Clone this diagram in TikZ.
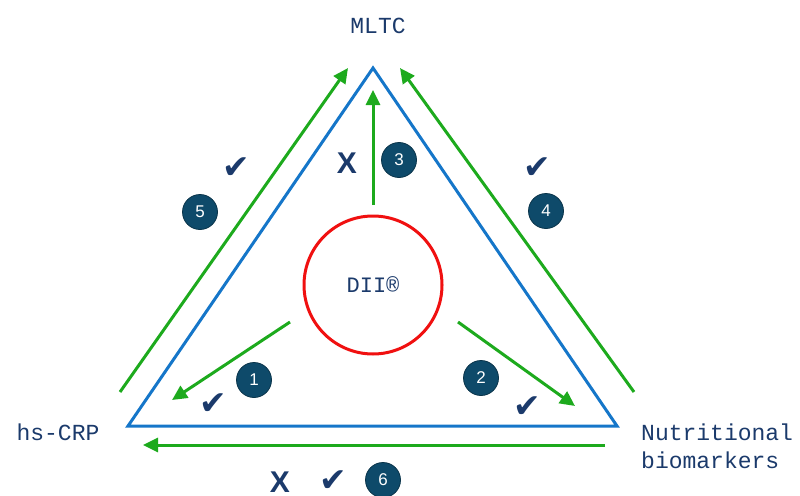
\documentclass[tikz,border=0pt]{standalone}
\usepackage{fontspec}
\setmainfont{Liberation Sans}
\newfontfamily\labelfont{Liberation Mono}
\newfontfamily\symfont{DejaVu Sans}
\usetikzlibrary{arrows.meta}
\definecolor{triblue}{HTML}{1576C9}
\definecolor{arrgreen}{HTML}{1DAA1D}
\definecolor{ringred}{HTML}{F01010}
\definecolor{navy}{HTML}{1B3A6B}
\definecolor{badge}{HTML}{0E4A6A}
\tikzset{
  vlabel/.style={font=\labelfont\fontsize{23}{27}\selectfont, text=navy, inner sep=0pt},
  link/.style={draw=arrgreen, line width=3pt, -{Triangle[length=15pt,width=14pt]}},
  badgenode/.style={circle, fill=badge, draw=badge!70!black, line width=0.8pt, minimum size=35pt, inner sep=0pt,
    text=white, font=\fontsize{17}{17}\selectfont},
  tick/.style={text=navy, font=\symfont\fontsize{33}{33}\selectfont, inner sep=0pt},
  cross/.style={text=navy, font=\bfseries\fontsize{30}{30}\selectfont, inner sep=0pt}
}
\begin{document}
\begin{tikzpicture}[x=1pt,y=-1pt]
\useasboundingbox (0,0) rectangle (800,495);

% triangle corners
\coordinate (top) at (373,68);
\coordinate (bl) at (128,426);
\coordinate (br) at (617,426);
\draw[triblue, line width=3pt, line join=miter] (top) -- (br) -- (bl) -- cycle;

% central index
\node[circle, draw=ringred, line width=3pt, minimum size=138pt, inner sep=0pt,
      font=\labelfont\fontsize{22}{26}\selectfont, text=navy] (dii) at (373,285) {DII®};

% corner labels
\node[vlabel] (mltc) at (378,26) {MLTC};
\node[vlabel] (crp) at (58,432) {hs-CRP};
\node[vlabel, anchor=west, align=left, font=\labelfont\fontsize{23}{28}\selectfont] (nut) at (641,446) {Nutritional\\biomarkers};

% arrow end points
\coordinate (l1) at (120,392);  \coordinate (l2) at (348,68);
\coordinate (r1) at (634,392);  \coordinate (r2) at (400,68);
\coordinate (b1) at (605,445);  \coordinate (b2) at (143,445);
\coordinate (v1) at (373,205);  \coordinate (v2) at (373,90);
\coordinate (a1) at (290,322);  \coordinate (a2) at (172,400);
\coordinate (c1) at (458,322);  \coordinate (c2) at (575,406);

\draw[link] (l1) -- (l2);
\draw[link] (r1) -- (r2);
\draw[link] (b1) -- (b2);
\draw[link] (v1) -- (v2);
\draw[link] (a1) -- (a2);
\draw[link] (c1) -- (c2);

% numbered badges
\node[badgenode] (n1) at (254,380) {1};
\node[badgenode] (n2) at (481,378) {2};
\node[badgenode] (n3) at (399,160) {3};
\node[badgenode] (n4) at (546,211) {4};
\node[badgenode] (n5) at (200,212) {5};
\node[badgenode] (n6) at (383,480) {6};

% outcome marks
\node[tick] (t5) at (236,168) {✔};
\node[tick] (t4) at (537,168) {✔};
\node[tick] (t1) at (213,404) {✔};
\node[tick] (t2) at (527,407) {✔};
\node[tick] (t6) at (333,481) {✔};
\node[cross] (x3) at (347,163) {X};
\node[cross] (x6) at (280,482) {X};
\end{tikzpicture}
\end{document}
